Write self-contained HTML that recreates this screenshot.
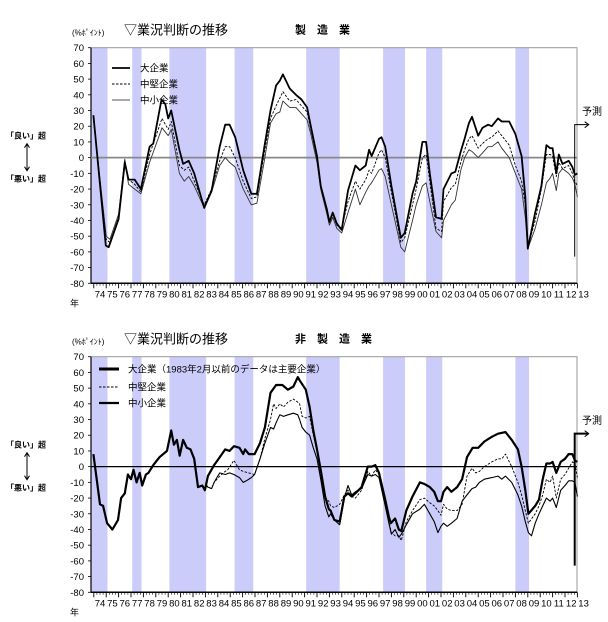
<!DOCTYPE html>
<html><head><meta charset="utf-8"><style>
body{margin:0;background:#fff;width:608px;height:617px;overflow:hidden;font-family:"Liberation Sans","Noto Sans CJK JP",sans-serif}
svg text{font-family:"Liberation Sans","Noto Sans CJK JP",sans-serif}
</style></head><body>
<svg id="svg" width="608" height="617"></svg>
<script>
// ---- Manufacturing (top) ----
const mfgLargeT=[1973.97,1974.97,1975.2,1976.0,1976.5,1976.8,1977.3,1977.8,1978.5,1978.8,1979.46,1979.77,1980.0,1980.24,1980.9,1981.2,1981.65,1982.1,1982.9,1983.5,1984.15,1984.6,1984.95,1985.4,1986.05,1986.7,1987.15,1987.8,1988.25,1988.7,1989.0,1989.25,1989.8,1990.3,1990.75,1991.2,1991.5,1992.0,1992.3,1992.8,1993.0,1993.27,1993.6,1993.99,1994.5,1995.1,1995.46,1995.93,1996.2,1996.4,1997.0,1997.2,1997.5,1998.0,1998.76,1999.07,1999.7,2000.0,2000.5,2000.8,2001.1,2001.6,2002.05,2002.2,2002.84,2003.15,2003.6,2003.9,2004.25,2004.5,2005.0,2005.35,2005.8,2006.1,2006.6,2006.9,2007.5,2008.0,2008.5,2008.8,2009.0,2009.6,2010.1,2010.5,2010.8,2011.0,2011.3,2011.5,2011.8,2012.3,2012.6,2012.8,2013.0];
const mfgLarge=[27,-56,-57,-39,-3,-14,-14,-20,7,9,37,34,25,30,5,-4,-2,-10,-32,-21,7,21,21,13,-8,-23,-23,9,30,46,49,53,44,40,37,32,20,1,-18,-33,-41,-35,-42,-46,-21,-5,-8,-5,5,1,12,13,7,-18,-51,-48,-23,-15,10,10,-10,-38,-39,-20,-10,-9,4,12,22,26,14,19,21,20,25,23,23,15,1,-25,-58,-35,-18,8,6,6,-10,2,-4,-2,-6,-11,-10];
const mfgMidT=[1973.97,1975.0,1975.3,1976.0,1976.5,1976.8,1977.3,1977.8,1978.5,1979.5,1980.0,1980.25,1980.9,1981.3,1981.65,1982.1,1982.9,1983.5,1984.15,1984.6,1984.95,1985.4,1986.05,1986.7,1987.15,1987.8,1988.25,1988.7,1989.25,1989.8,1990.3,1990.75,1991.2,1991.5,1992.0,1992.3,1992.8,1993.0,1993.27,1993.6,1993.99,1994.5,1995.1,1995.46,1995.93,1996.2,1996.4,1997.0,1997.2,1997.5,1998.0,1998.76,1999.07,1999.7,2000.0,2000.5,2000.8,2001.1,2001.6,2002.05,2002.2,2002.84,2003.15,2003.6,2003.9,2004.25,2004.5,2005.0,2005.35,2005.8,2006.1,2006.6,2006.9,2007.5,2008.0,2008.5,2008.8,2009.0,2009.6,2010.1,2010.5,2010.8,2011.0,2011.3,2011.5,2011.8,2012.3,2012.6,2012.8,2013.0];
const mfgMid=[25,-52,-54,-38,-2,-14,-17,-22,2,25,18,23,-5,-8,-6,-15,-30,-20,-2,7,7,0,-15,-26,-25,5,25,33,42,36,37,33,29,18,0,-18,-34,-40,-36,-43,-45,-28,-15,-20,-14,-8,-10,3,5,0,-22,-54,-51,-30,-20,0,2,-15,-45,-47,-28,-19,-17,-3,5,12,14,6,9,12,13,17,14,8,-5,-15,-30,-57,-40,-20,2,2,1,-12,-3,-7,-5,-10,-15,-18];
const mfgSmallT=[1973.97,1975.0,1975.3,1976.0,1976.5,1976.8,1977.3,1977.8,1978.5,1979.5,1980.0,1980.25,1980.9,1981.3,1981.65,1982.1,1982.9,1983.5,1984.15,1984.6,1984.95,1985.4,1986.05,1986.7,1987.15,1987.8,1988.25,1988.7,1989.0,1989.25,1989.8,1990.3,1990.75,1991.2,1991.5,1992.0,1992.3,1992.8,1993.0,1993.27,1993.6,1993.99,1994.5,1995.1,1995.46,1995.93,1996.2,1996.4,1997.0,1997.2,1997.5,1998.0,1998.76,1999.07,1999.7,2000.0,2000.5,2000.8,2001.1,2001.6,2002.05,2002.2,2002.84,2003.15,2003.6,2003.9,2004.25,2004.5,2005.0,2005.35,2005.8,2006.1,2006.6,2006.9,2007.5,2008.0,2008.5,2008.8,2009.0,2009.6,2010.1,2010.5,2010.8,2011.0,2011.3,2011.5,2011.8,2012.3,2012.6,2012.8,2013.0];
const mfgSmall=[25,-50,-52,-36,-1,-17,-20,-23,-3,19,14,18,-10,-15,-12,-18,-32,-22,-5,0,-3,-6,-20,-30,-29,0,22,28,29,36,32,32,28,24,15,-3,-20,-36,-43,-38,-45,-48,-35,-20,-30,-22,-18,-16,-8,-7,-12,-30,-57,-60,-40,-30,-18,-16,-28,-47,-51,-40,-30,-27,-8,0,5,4,0,3,7,7,10,6,0,-10,-20,-38,-58,-45,-30,-16,-13,-10,-21,-10,-7,-10,-13,-17,-25];
// ---- Non-manufacturing (bottom) ----
const nonLargeT=[1973.97,1974.5,1974.75,1975.07,1975.5,1975.95,1976.2,1976.5,1976.75,1977.0,1977.2,1977.45,1977.7,1977.9,1978.2,1978.4,1978.8,1979.3,1979.9,1980.24,1980.46,1980.7,1980.93,1981.2,1981.5,1981.8,1982.1,1982.4,1982.75,1982.96,1983.2,1983.7,1984.15,1984.6,1984.95,1985.3,1985.75,1986.05,1986.2,1986.5,1986.97,1987.4,1987.8,1988.25,1988.7,1989.2,1989.65,1990.1,1990.45,1990.6,1991.1,1991.4,1991.7,1992.0,1992.3,1992.65,1992.95,1993.1,1993.4,1993.83,1994.2,1994.5,1994.8,1995.1,1995.6,1996.1,1996.4,1996.7,1997.0,1997.5,1997.8,1997.96,1998.3,1998.6,1998.8,1999.2,1999.7,2000.3,2000.66,2001.1,2001.45,2001.75,2002.0,2002.2,2002.5,2002.84,2003.3,2003.7,2004.1,2004.55,2005.0,2005.5,2006.1,2006.6,2007.2,2007.7,2008.2,2008.5,2008.8,2009.05,2009.6,2009.9,2010.2,2010.5,2010.8,2011.0,2011.3,2011.65,2012.0,2012.3,2012.6,2012.8,2013.0];
const nonLarge=[8,-24,-25,-36,-40,-34,-20,-17,-5,-8,-2,-10,-4,-12,-5,-4,1,6,10,23,14,17,7,17,12,11,5,-13,-12,-15,-6,1,6,11,10,13,12,8,11,8,8,15,25,47,52,52,49,51,57,55,49,38,23,11,-2,-19,-27,-28,-34,-35,-19,-17,-19,-17,-13,0,0,1,-4,-21,-32,-36,-33,-40,-41,-28,-19,-10,-11,-13,-16,-22,-22,-16,-13,-16,-13,-8,6,12,12,16,19,21,22,17,11,0,-15,-30,-25,-21,-8,2,2,3,-4,3,5,8,8,4,3];
const nonMidT=[1983.0,1983.2,1983.5,1983.7,1984.15,1984.6,1984.8,1985.3,1985.75,1986.05,1986.5,1986.97,1987.4,1987.8,1988.25,1988.5,1988.7,1989.0,1989.3,1989.65,1990.1,1990.45,1990.6,1990.8,1991.1,1991.4,1991.7,1992.0,1992.3,1992.65,1992.95,1993.1,1993.4,1993.83,1994.2,1994.5,1994.8,1995.1,1995.6,1996.1,1996.4,1996.7,1997.0,1997.5,1997.8,1998.0,1998.3,1998.6,1998.8,1999.2,1999.7,2000.3,2000.66,2001.1,2001.45,2001.75,2002.0,2002.2,2002.5,2002.84,2003.3,2003.7,2004.1,2004.5,2004.8,2005.1,2005.5,2006.1,2006.6,2006.9,2007.2,2007.7,2008.2,2008.5,2008.8,2009.05,2009.6,2009.9,2010.2,2010.5,2010.8,2011.0,2011.3,2011.65,2012.0,2012.3,2012.6,2012.8,2013.0];
const nonMid=[-12,-13,-14,-10,-6,-3,-2,4,-2,-3,-4,-5,5,18,30,40,37,40,38,41,43,41,40,32,31,32,20,10,-5,-20,-22,-25,-26,-24,-18,-15,-19,-20,-15,-3,-6,-2,-5,-20,-35,-42,-44,-44,-47,-35,-28,-21,-20,-23,-25,-28,-31,-24,-27,-28,-28,-24,-6,-1,-4,-3,0,3,5,5,8,0,-10,-18,-28,-36,-30,-25,-18,-8,-10,-6,-20,-8,-5,-1,3,2,-7];
const nonSmallT=[1983.0,1983.2,1983.5,1983.7,1984.15,1984.6,1984.95,1985.3,1985.75,1986.05,1986.3,1986.7,1986.97,1987.4,1987.8,1988.25,1988.5,1988.7,1989.0,1989.3,1989.65,1990.1,1990.45,1990.6,1990.8,1991.1,1991.4,1991.7,1992.0,1992.3,1992.65,1992.95,1993.1,1993.4,1993.83,1994.2,1994.5,1994.8,1995.1,1995.6,1996.1,1996.4,1996.7,1997.0,1997.5,1997.8,1998.0,1998.3,1998.6,1998.8,1999.2,1999.7,2000.3,2000.66,2001.1,2001.45,2001.75,2002.0,2002.2,2002.5,2002.84,2003.3,2003.7,2004.1,2004.5,2004.8,2005.1,2005.5,2006.1,2006.6,2006.9,2007.2,2007.7,2008.2,2008.5,2008.8,2009.05,2009.3,2009.6,2009.9,2010.2,2010.5,2010.8,2011.0,2011.3,2011.65,2012.0,2012.3,2012.6,2012.8,2013.0];
const nonSmall=[-11,-13,-14,-10,-4,-5,-4,-5,-7,-10,-9,-7,-5,5,15,25,24,28,33,32,33,34,33,30,25,22,20,12,5,-8,-25,-32,-30,-34,-37,-20,-12,-18,-16,-14,-5,-6,-5,-7,-25,-36,-43,-40,-45,-43,-37,-30,-27,-24,-30,-35,-42,-38,-36,-38,-36,-33,-22,-18,-14,-13,-10,-8,-7,-6,-8,-6,-10,-18,-25,-35,-42,-44,-36,-30,-25,-20,-22,-20,-26,-15,-12,-9,-9,-10,-19];
// shared
const recessionStart=[1973.78,1977.1,1980.1,1985.35,1991.13,1997.33,2000.8,2008.0];
const recessionEnd=[1975.1,1977.85,1983.06,1986.86,1993.83,1999.1,2002.1,2009.1];
const yTicks=[70,60,50,40,30,20,10,0,-10,-20,-30,-40,-50,-60,-70,-80];
const yearLabels=["74","75","76","77","78","79","80","81","82","83","84","85","86","87","88","89","90","91","92","93","94","95","96","97","98","99","00","01","02","03","04","05","06","07","08","09","10","11","12","13"];

const NS="http://www.w3.org/2000/svg";
const svg=document.getElementById('svg');
function mk(tag,attrs,parent){const e=document.createElementNS(NS,tag);for(const k in attrs)e.setAttribute(k,attrs[k]);(parent||svg).appendChild(e);return e;}
const X0=91,X1=577,T0=1973.78;
function xs(t){return 93.8+(t-1974)*12.4;}

function drawChart(top,name,title,series,zeroColor,zeroW,forecastW){
  const yTop=top,yBot=top+235.6;
  function ys(v){return yTop+(70-v)*(yBot-yTop)/150;}
  const g=mk('g',{});
  
  
  for(let i=0;i<recessionStart.length;i++){
    const r=mk('rect',{x:Math.max(X0,xs(recessionStart[i])),y:yTop,width:xs(recessionEnd[i])-Math.max(X0,xs(recessionStart[i])),height:yBot-yTop,fill:'#ccccfb'},g);
    
    
  }
  const frame=mk('rect',{x:X0,y:yTop,width:X1-X0,height:yBot-yTop,fill:'none',stroke:'#999','stroke-width':1},g);
  
  
  mk('line',{x1:X0,y1:yTop,x2:X0,y2:yBot,stroke:'#000','stroke-width':1.2},g);
  mk('line',{x1:X0,y1:yBot,x2:X1,y2:yBot,stroke:'#000','stroke-width':1.5},g);
  yTicks.forEach(v=>{
    const t=mk('text',{x:84,y:ys(v)+3.5,'font-size':9.5,'text-anchor':'end',fill:'#000'},g);
    t.textContent=v;
    
    
    mk('line',{x1:X0-3,y1:ys(v),x2:X0,y2:ys(v),stroke:'#000','stroke-width':0.8},g);
  });
  for(let y=1974;y<=2013;y++){
    mk('line',{x1:xs(y),y1:yBot,x2:xs(y),y2:yBot+5,stroke:'#000','stroke-width':0.9},g);
    for(let q=1;q<4;q++){if(xs(y+q/4)<X1)mk('line',{x1:xs(y+q/4),y1:yBot,x2:xs(y+q/4),y2:yBot+2.5,stroke:'#000','stroke-width':0.6},g);}
  }
  yearLabels.forEach((lab,i)=>{
    const t=mk('text',{x:xs(1974+i+0.5),y:yBot+14,'font-size':9.5,'text-anchor':'middle',fill:'#000'},g);
    t.textContent=lab;
    
    
  });
  const z=mk('line',{x1:X0,y1:ys(0),x2:X1,y2:ys(0),stroke:zeroColor,'stroke-width':zeroW},g);
  
  
  series.forEach(s=>{
    const d=s.t.map((t,i)=>(i?'L':'M')+xs(t).toFixed(1)+' '+ys(s.v[i]).toFixed(1)).join(' ');
    const p=mk('path',{d:d,fill:'none',stroke:s.color,'stroke-width':s.w,'stroke-dasharray':s.dash||'none','stroke-linejoin':'round'},g);
    
    
  });
  // forecast marker
  const fx=574.7;
  const fl=mk('path',{d:`M${fx} ${ys(-63)} L${fx} ${ys(21)} L${fx+13} ${ys(21)}`,fill:'none',stroke:'#000','stroke-width':forecastW},g);
  
  
  mk('path',{d:`M${fx+10} ${ys(21)-3} L${fx+14} ${ys(21)} L${fx+10} ${ys(21)+3}`,fill:'none',stroke:'#000','stroke-width':1},g);
  const ft=mk('text',{x:582,y:ys(27),'font-size':10,fill:'#000'},g);
  ft.textContent='予測';
  
  
  // header texts
  const u=mk('text',{x:72,y:top-12,'font-size':8,fill:'#000'},g);
  u.textContent='(%ﾎﾟｲﾝﾄ)';
  
  
  const tt=mk('text',{x:124,y:top-13,'font-size':13,fill:'#000'},g);
  tt.textContent='▽業況判断の推移';
  
  
  const st=mk('text',{x:title.length>3?295:307,y:top-14,'font-size':11,fill:'#000','font-weight':'bold'},g);
  st.textContent=title;
  
  
  const good=mk('text',{x:6,y:top+91,'font-size':8,'font-weight':'bold',fill:'#000'},g);
  good.textContent='「良い」超';
  
  
  const bad=mk('text',{x:6,y:top+134,'font-size':8,'font-weight':'bold',fill:'#000'},g);
  bad.textContent='「悪い」超';
  
  
  mk('path',{d:`M27 ${top+97} L27 ${top+122} M24.5 ${top+100} L27 ${top+96} L29.5 ${top+100} M24.5 ${top+119} L27 ${top+123} L29.5 ${top+119}`,fill:'none',stroke:'#000','stroke-width':1},g);
  const yr=mk('text',{x:70,y:yBot+23,'font-size':9,fill:'#000'},g);
  yr.textContent='年';
  
  
  return {g,ys};
}

const c1=drawChart(47.7,'manufacturing-chart','製　造　業',[
  {name:'mfg-small-line',t:mfgSmallT,v:mfgSmall,color:'#333',w:0.9},
  {name:'mfg-mid-line',t:mfgMidT,v:mfgMid,color:'#000',w:0.9,dash:'2.5 1.5'},
  {name:'mfg-large-line',t:mfgLargeT,v:mfgLarge,color:'#000',w:1.8}
],'#888',1.8,1);
const c2=drawChart(356.7,'non-manufacturing-chart','非　製　造　業',[
  {name:'non-small-line',t:nonSmallT,v:nonSmall,color:'#000',w:1.1},
  {name:'non-mid-line',t:nonMidT,v:nonMid,color:'#000',w:0.9,dash:'2.5 1.5'},
  {name:'non-large-line',t:nonLargeT,v:nonLarge,color:'#000',w:2.2}
],'#000',1.2,2);

function legend(g,x1,x2,tx,y,w,dash,label,color,nm){
  const e=mk('g',{},g);
  
  
  mk('line',{x1:x1,y1:y,x2:x2,y2:y,stroke:color,'stroke-width':w,'stroke-dasharray':dash||'none'},e);
  const t=mk('text',{x:tx,y:y+3.5,'font-size':9.5,fill:'#000'},e);
  t.textContent=label;
}
legend(c1.g,112,130,140,68,1.8,null,'大企業','#000','legend-large');
legend(c1.g,112,130,140,84,0.9,'2.5 1.5','中堅企業','#000','legend-mid');
legend(c1.g,112,130,140,100,0.9,null,'中小企業','#555','legend-small');
legend(c2.g,99,119,128,369,3,null,'大企業（1983年2月以前のデータは主要企業）','#000','legend-large');
legend(c2.g,99,119,128,387,0.9,'2.5 1.5','中堅企業','#000','legend-mid');
legend(c2.g,99,119,128,403,2.2,null,'中小企業','#000','legend-small');
</script>
</body></html>
